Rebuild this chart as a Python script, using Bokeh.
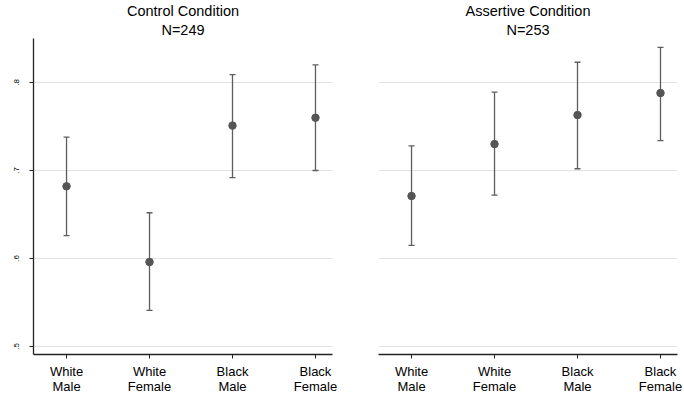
from bokeh.plotting import figure
from bokeh.layouts import row
from bokeh.models import FixedTicker, Whisker, ColumnDataSource, Title, Range1d, TeeHead
from bokeh.embed import file_html
from bokeh.resources import INLINE

categories = ["White\nMale", "White\nFemale", "Black\nMale", "Black\nFemale"]
panel_titles = ["Control Condition", "Assertive Condition"]
panel_n = ["N=249", "N=253"]

control_mean = [0.682, 0.596, 0.751, 0.760]
control_low = [0.626, 0.541, 0.692, 0.700]
control_high = [0.738, 0.652, 0.809, 0.820]

assertive_mean = [0.671, 0.730, 0.763, 0.788]
assertive_low = [0.615, 0.672, 0.702, 0.734]
assertive_high = [0.728, 0.789, 0.823, 0.840]

yticks = [0.5, 0.6, 0.7, 0.8]
ytick_labels = [".5", ".6", ".7", ".8"]

FONT = "Liberation Sans"
MARK = "#555555"
ERR = "#5e5e5e"
GRID = "#e2e2e2"

xpos = list(range(1, len(categories) + 1))


def make_panel(title, n, mean, low, high, first):
    p = figure(width=342, height=396, output_backend="svg", toolbar_location=None,
               x_range=Range1d(0.602, 4.205), y_range=Range1d(0.4909, 0.85),
               min_border_left=33 if first else 36, min_border_right=10 if first else 7,
               min_border_top=38, min_border_bottom=42, title=title)
    p.title.align = "center"
    p.title.text_font = FONT
    p.title.text_font_size = "14.5px"
    p.title.text_font_style = "normal"
    p.title.text_color = "#000000"
    p.title.standoff = 0
    t2 = Title(text=n, align="center", text_font=FONT, text_font_size="14.5px",
               text_font_style="normal", text_color="#000000", standoff=2)
    p.add_layout(t2, "above")
    p.outline_line_color = None
    p.background_fill_color = "white"
    p.border_fill_color = "white"

    p.xgrid.visible = False
    p.xaxis.ticker = FixedTicker(ticks=xpos)
    p.xaxis.major_label_overrides = {x: c for x, c in zip(xpos, categories)}
    p.xaxis.major_label_text_font = FONT
    p.xaxis.major_label_text_font_size = "13px"
    p.xaxis.major_label_text_color = "#000000"
    p.xaxis.major_label_text_line_height = 1.0
    p.xaxis.major_tick_out = 4
    p.xaxis.major_tick_in = 0
    p.xaxis.minor_tick_line_color = None
    p.xaxis.axis_line_color = "#222222"
    p.xaxis.major_tick_line_color = "#222222"
    p.xaxis.axis_line_width = 1.3
    p.xaxis.major_label_standoff = 5

    p.yaxis.ticker = FixedTicker(ticks=yticks)
    p.yaxis.major_label_overrides = {y: l for y, l in zip(yticks, ytick_labels)}
    p.yaxis.major_label_orientation = "vertical"
    p.yaxis.major_label_text_font = FONT
    p.yaxis.major_label_text_font_size = "8px"
    p.yaxis.major_label_text_color = "#000000"
    p.yaxis.major_tick_out = 4
    p.yaxis.major_tick_in = 0
    p.yaxis.minor_tick_line_color = None
    p.yaxis.axis_line_color = "#222222"
    p.yaxis.major_tick_line_color = "#222222"
    p.yaxis.axis_line_width = 1.3
    p.yaxis.major_label_standoff = 10
    if not first:
        p.yaxis.axis_line_color = None
        p.yaxis.major_tick_line_color = None
        p.yaxis.major_label_text_alpha = 0
    p.ygrid.ticker = FixedTicker(ticks=yticks)
    p.ygrid.grid_line_color = GRID
    p.ygrid.grid_line_width = 1.2

    src = ColumnDataSource(dict(x=xpos, m=mean, lo=low, hi=high))
    w = Whisker(base="x", lower="lo", upper="hi", source=src, line_color=ERR, line_width=1.3,
                upper_head=TeeHead(size=6, line_color=ERR, line_width=1.3),
                lower_head=TeeHead(size=6, line_color=ERR, line_width=1.3))
    p.add_layout(w)
    p.scatter("x", "m", source=src, size=7.5, color=MARK, line_color=MARK)
    return p


p1 = make_panel(panel_titles[0], panel_n[0], control_mean, control_low, control_high, True)
p2 = make_panel(panel_titles[1], panel_n[1], assertive_mean, assertive_low, assertive_high, False)
p = row(p1, p2)
open("out.html", "w").write(file_html(p, INLINE))
